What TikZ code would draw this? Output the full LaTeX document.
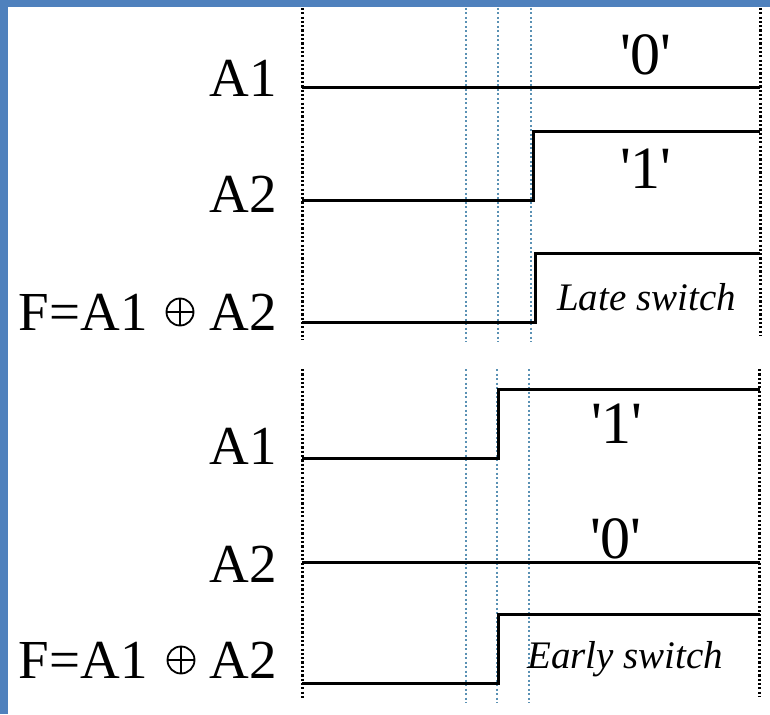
\documentclass[tikz,border=0pt]{standalone}
\usepackage{fontspec}
\setmainfont{Liberation Serif}
\definecolor{frameblue}{RGB}{79,129,189}
\definecolor{guideblue}{RGB}{90,145,180}
\newcommand{\tick}{\textquotesingle}
\begin{document}
\begin{tikzpicture}[x=1pt,y=-1pt,
  signal/.style={line width=3pt, line join=miter, line cap=butt},
  blackguide/.style={line width=3pt, dash pattern=on 2.2pt off 2.1pt},
  blueguide/.style={guideblue, line width=2.4pt, dash pattern=on 2pt off 2.5pt},
  lbl/.style={font=\fontsize{55}{60}\selectfont, anchor=base east, inner sep=0pt},
  val/.style={font=\fontsize{60}{66}\selectfont, anchor=base, inner sep=0pt},
  note/.style={font=\itshape\fontsize{39}{44}\selectfont, anchor=base west, inner sep=0pt},
  xorsign/.style={circle, draw, line width=1.8pt, minimum size=27pt, inner sep=0pt,
    path picture={\draw[line width=1.8pt]
      (path picture bounding box.north) -- (path picture bounding box.south)
      (path picture bounding box.west) -- (path picture bounding box.east);}}]

% page and frame
\fill[white] (0,0) rectangle (770,714);
\fill[frameblue] (0,0) rectangle (770,7);
\fill[frameblue] (0,0) rectangle (8,714);
\useasboundingbox (0,0) rectangle (770,714);

% ---------- upper panel: late switch ----------
\foreach \gx in {466,498,531} \draw[blueguide] (\gx,8) -- (\gx,342);
\draw[blackguide] (302,8) -- (302,340);
\draw[blackguide] (760,8) -- (760,336);

\draw[signal] (302,88) -- (760,88);
\draw[signal] (302,200) -- (533,200) -- (533,132) -- (760,132);
\draw[signal] (302,322) -- (535,322) -- (535,253) -- (760,253);

\node[lbl] (ua1) at (277,97) {A1};
\node[lbl] (ua2) at (277,212) {A2};
\node[lbl] (uf)  at (148,330) {F=A1};
\node[xorsign] (ux) at (180,312) {};
\node[lbl] (ufa2) at (277,330) {A2};
\node[val] (u0) at (646,75) {\tick0\tick};
\node[val] (u1) at (646,188) {\tick1\tick};
\node[note] (late) at (557,310) {Late switch};

% ---------- lower panel: early switch ----------
\foreach \gx in {466,497,529} \draw[blueguide] (\gx,369) -- (\gx,703);
\draw[blackguide] (302,369) -- (302,698);
\draw[blackguide] (759,369) -- (759,697);

\draw[signal] (302,458) -- (498,458) -- (498,389) -- (760,389);
\draw[signal] (302,562) -- (760,562);
\draw[signal] (302,683) -- (498,683) -- (498,614) -- (760,614);

\node[lbl] (la1) at (277,464) {A1};
\node[lbl] (la2) at (277,582) {A2};
\node[lbl] (lf)  at (148,678) {F=A1};
\node[xorsign] (lx) at (181,660) {};
\node[lbl] (lfa2) at (277,678) {A2};
\node[val] (l1) at (617,443) {\tick1\tick};
\node[val] (l0) at (616,558) {\tick0\tick};
\node[note] (early) at (527,668) {Early switch};
\end{tikzpicture}
\end{document}
